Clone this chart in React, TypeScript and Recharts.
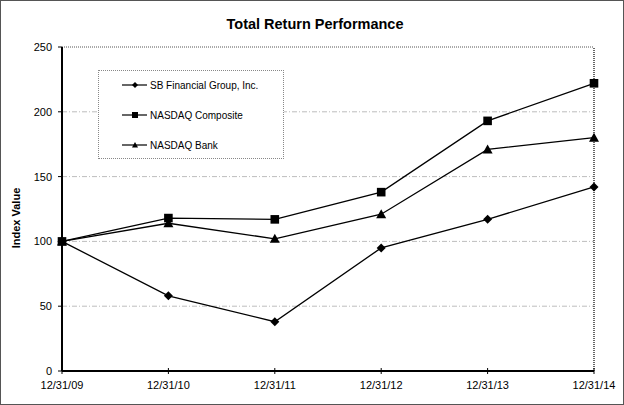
import React from "react";
import { LineChart, Line, XAxis, YAxis, CartesianGrid, Legend, ReferenceLine, Label } from "recharts";

const dates = ["12/31/09", "12/31/10", "12/31/11", "12/31/12", "12/31/13", "12/31/14"];
const sbFinancial = [100, 58, 38, 95, 117, 142];
const nasdaqComposite = [100, 118, 117, 138, 193, 222];
const nasdaqBank = [100, 114, 102, 121, 171, 180];
const yTicks = [0, 50, 100, 150, 200, 250];

const data = dates.map((d, i) => ({
  date: d,
  sb: sbFinancial[i],
  comp: nasdaqComposite[i],
  bank: nasdaqBank[i],
}));

const FONT = "Arial, 'Liberation Sans', sans-serif";

function Diamond({ cx, cy, r }: any) {
  return <polygon points={`${cx},${cy - r} ${cx + r},${cy} ${cx},${cy + r} ${cx - r},${cy}`} fill="#000" />;
}
function Square({ cx, cy, r }: any) {
  return <rect x={cx - r} y={cy - r} width={r * 2} height={r * 2} fill="#000" />;
}
function Triangle({ cx, cy, r }: any) {
  return <polygon points={`${cx},${cy - r} ${cx + r},${cy + r * 0.8} ${cx - r},${cy + r * 0.8}`} fill="#000" />;
}

const series = [
  { key: "sb", name: "SB Financial Group, Inc.", Shape: Diamond, r: 4.5 },
  { key: "comp", name: "NASDAQ Composite", Shape: Square, r: 4.3 },
  { key: "bank", name: "NASDAQ Bank", Shape: Triangle, r: 5 },
];

function XTick({ x, y, payload }: any) {
  return (
    <g>
      <line x1={x} x2={x} y1={y - 3} y2={y + 3} stroke="#000" />
      <text x={x} y={y + 18} textAnchor="middle" fontSize={11} fontFamily={FONT} fill="#000">
        {payload.value}
      </text>
    </g>
  );
}

function LegendBox() {
  return (
    <div style={{ width: 186, height: 89, border: "1px dotted #888", boxSizing: "border-box", background: "#fff", position: "relative" }}>
      {series.map((s, i) => (
        <div key={s.key} style={{ position: "absolute", left: 23, top: 7 + i * 30, height: 14, display: "flex", alignItems: "center" }}>
          <svg width={26} height={14}>
            <line x1={0} x2={25} y1={7} y2={7} stroke="#000" strokeWidth={1.2} />
            <s.Shape cx={13} cy={7} r={3} />
          </svg>
          <span style={{ fontFamily: FONT, fontSize: 10, color: "#000", marginLeft: 2 }}>{s.name}</span>
        </div>
      ))}
    </div>
  );
}

export default function App() {
  return (
    <div style={{ position: "absolute", left: 0, top: 0, width: 624, height: 405, border: "1px solid #555", boxSizing: "border-box", background: "#fff" }}>
      <div style={{ position: "absolute", left: 0, top: 0, width: 624 }}>
        <LineChart width={622} height={403} data={data} margin={{ top: 46, right: 29, left: 0, bottom: 0 }}>
          <CartesianGrid vertical={false} stroke="#bdbdbd" strokeDasharray="5 2 1 2" horizontalValues={[50, 100, 150, 200]} />
          <ReferenceLine y={250} stroke="#555" strokeDasharray="1 1" />
          <ReferenceLine x="12/31/14" stroke="#333" strokeWidth={1.5} strokeDasharray="1 1" />
          <XAxis
            dataKey="date"
            interval={0}
            height={33}
            tickSize={0}
            tickMargin={0}
            tick={<XTick />}
            axisLine={{ stroke: "#000", strokeWidth: 2 }}
          />
          <YAxis
            domain={[0, 250]}
            ticks={yTicks}
            width={61}
            tickSize={4}
            tickMargin={6}
            tick={{ fontSize: 11, fontFamily: FONT, fill: "#000" }}
            tickLine={{ stroke: "#000" }}
            axisLine={{ stroke: "#000", strokeWidth: 2 }}
          >
            <Label
              content={() => (
                <text transform="translate(19,217) rotate(-90)" textAnchor="middle" fontSize={11} fontWeight="bold" fontFamily={FONT} fill="#000">
                  Index Value
                </text>
              )}
            />
          </YAxis>
          <Legend
            layout="vertical"
            align="center"
            verticalAlign="middle"
            content={() => <LegendBox />}
            wrapperStyle={{ position: "absolute", left: 97, top: 69, width: 186, height: 89 }}
          />
          {series.map((s) => (
            <Line
              key={s.key}
              type="linear"
              dataKey={s.key}
              name={s.name}
              stroke="#000"
              strokeWidth={1.3}
              isAnimationActive={false}
              dot={(p: any) => <s.Shape key={`${s.key}-${p.index}`} cx={p.cx} cy={p.cy} r={s.r} />}
              activeDot={false}
            />
          ))}
        </LineChart>
      </div>
      <div
        style={{
          position: "absolute",
          left: 0,
          top: 15,
          width: 628,
          textAlign: "center",
          fontFamily: FONT,
          fontSize: 14.5,
          fontWeight: "bold",
          color: "#000",
        }}
      >
        Total Return Performance
      </div>
    </div>
  );
}
